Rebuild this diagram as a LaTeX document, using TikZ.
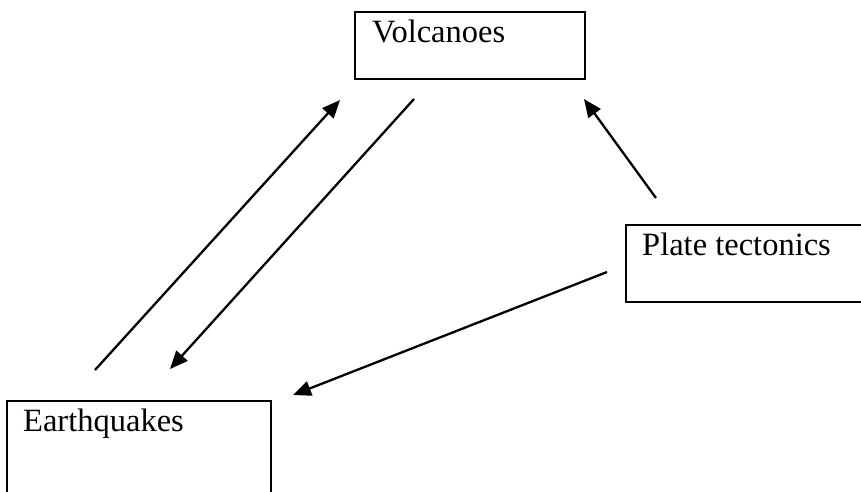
\documentclass[tikz,border=0pt]{standalone}
\usepackage{fontspec}
\setmainfont{Liberation Serif}
\usetikzlibrary{arrows.meta}
\begin{document}
\begin{tikzpicture}[x=1pt,y=-1pt,
  box/.style={draw=black,line width=1.8pt},
  lbl/.style={anchor=base west,inner sep=0pt,font=\fontsize{32.5}{38}\selectfont},
  link/.style={line width=2.3pt,-{Triangle[length=18pt,width=15pt]}}]
\useasboundingbox (0,0) rectangle (861,491);
% boxes
\draw[box] (355,12) rectangle (585,79);
\draw[box] (626,225) rectangle (870,302);
\draw[box] (7,401) rectangle (271,500);
% labels
\node[lbl] (vt) at (372,42) {Volcanoes};
\node[lbl] (pt) at (642,255) {Plate tectonics};
\node[lbl] (et) at (23,431) {Earthquakes};
% connector ends
\coordinate (e1) at (95,370);
\coordinate (v1) at (340,100);
\coordinate (v2) at (414,99);
\coordinate (e2) at (170,369);
\coordinate (p1) at (656,198);
\coordinate (v3) at (584,99);
\coordinate (p2) at (607,272);
\coordinate (e3) at (293,395);
% connectors
\draw[link] (e1) -- (v1);
\draw[link] (v2) -- (e2);
\draw[link] (p1) -- (v3);
\draw[link] (p2) -- (e3);
\end{tikzpicture}
\end{document}
